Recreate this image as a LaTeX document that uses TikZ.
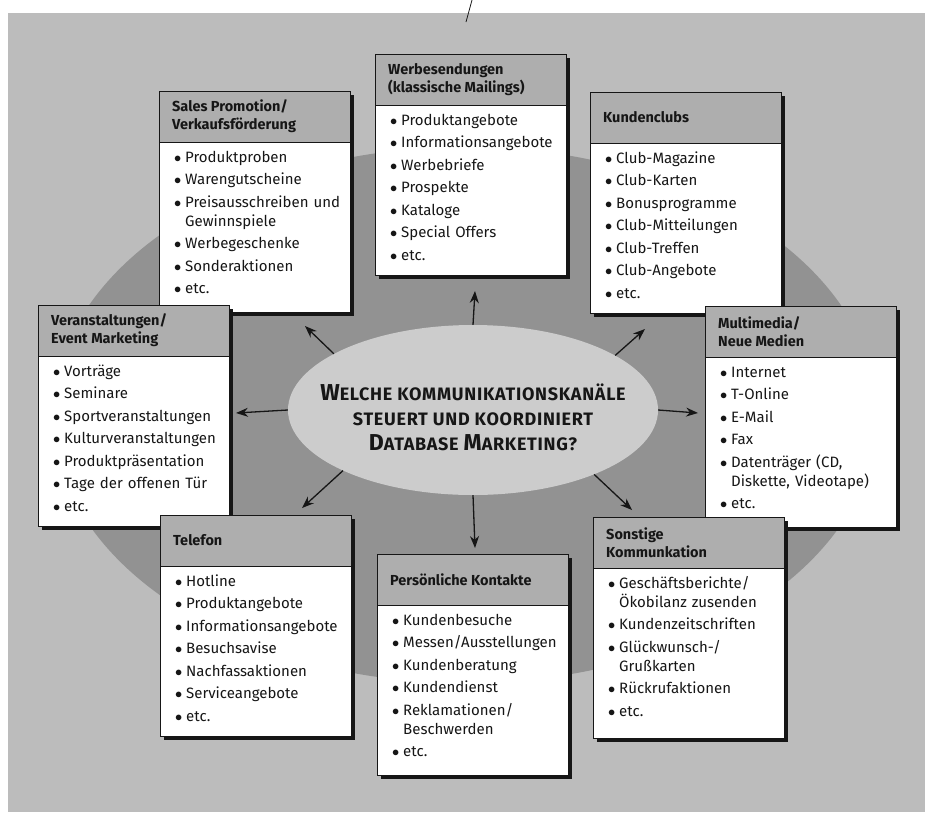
\documentclass[tikz,border=0pt]{standalone}
\usepackage{fontspec}
\setmainfont{Fira Sans}
\newfontfamily\titlefont{Fira Sans}[LetterSpace=4]
\usetikzlibrary{shapes.geometric,arrows.meta}
\definecolor{pagebg}{RGB}{188,188,188}
\definecolor{darkell}{RGB}{146,146,146}
\definecolor{lightell}{RGB}{204,204,204}
\definecolor{headfill}{RGB}{174,174,174}
\definecolor{inkc}{RGB}{22,22,22}
\newcommand{\itm}[1]{\noindent\hangindent=11pt\hangafter=1\makebox[11pt][l]{$\bullet$}#1\par}
\newcommand{\bigc}[1]{{\fontsize{23}{25}\selectfont #1}}
\tikzset{
  boxframe/.style={draw=inkc, line width=0.9pt, fill=white, minimum width=191pt, minimum height=221pt, inner sep=0pt},
  headbar/.style={draw=inkc, line width=0.9pt, fill=headfill, minimum width=191pt, minimum height=51pt, inner sep=0pt},
  headtext/.style={font=\fontsize{14.5}{18}\selectfont\bfseries, align=left, inner sep=0pt, text=inkc},
  bodytext/.style={font=\fontsize{15}{19}\selectfont, text width=178pt, inner sep=0pt, text=inkc, execute at begin node={\setlength{\parskip}{3.5pt}\raggedright}},
  arr/.style={draw=inkc, line width=1.3pt, -{Stealth[length=12pt,width=9pt]}}
}
\newcommand{\chanbox}[5]{%
  \fill[inkc] (#2+4,#3+4) rectangle (#2+195,#3+225);
  \node[boxframe, anchor=north west] (#1) at (#2,#3) {};
  \node[headbar, anchor=north west] (#1h) at (#2,#3) {};
  \node[headtext, anchor=west] (#1t) at (#2+13,#3+25.5) {#4};
  \node[bodytext, anchor=base west] (#1b) at (#2+15,#3+71) {#5};
}
\begin{document}
\begin{tikzpicture}[x=1pt,y=-1pt]
\useasboundingbox (0,0) rectangle (925,825);
\fill[pagebg] (8,13) rectangle (925,812);
\draw[inkc, line width=0.8pt] (472,0) -- (466,22);
\fill[darkell] (465,415) ellipse [x radius=412pt, y radius=268pt];
\node[ellipse, fill=lightell, minimum width=370pt, minimum height=170pt, inner sep=0pt] (ce) at (473,410) {};
\node[font=\fontsize{18}{25}\titlefont\bfseries, align=center, text=inkc] (q) at (473,417)
  {\bigc{W}ELCHE KOMMUNIKATIONSKANÄLE\\STEUERT UND KOORDINIERT\\\bigc{D}ATABASE \bigc{M}ARKETING?};
\coordinate (tUL) at (305,326);
\coordinate (tU) at (475,291);
\coordinate (tUR) at (645,329);
\coordinate (tR) at (698,413);
\coordinate (tL) at (236,413);
\coordinate (tLL) at (302,508);
\coordinate (tD) at (475,548);
\coordinate (tLR) at (632,510);
\draw[arr] (ce.158) -- (tUL);
\draw[arr] (ce.90) -- (tU);
\draw[arr] (ce.21) -- (tUR);
\draw[arr] (ce.0) -- (tR);
\draw[arr] (ce.180) -- (tL);
\draw[arr] (ce.205) -- (tLL);
\draw[arr] (ce.270) -- (tD);
\draw[arr] (ce.332) -- (tLR);
\chanbox{sp}{159}{91}{Sales Promotion/\\Verkaufsförderung}{\itm{Produktproben}\itm{Warengutscheine}\itm{Preisausschreiben und\newline Gewinnspiele}\itm{Werbegeschenke}\itm{Sonderaktionen}\itm{etc.}}
\chanbox{wb}{375}{54}{Werbesendungen\\(klassische Mailings)}{\itm{Produktangebote}\itm{Informationsangebote}\itm{Werbebriefe}\itm{Prospekte}\itm{Kataloge}\itm{Special Offers}\itm{etc.}}
\chanbox{kc}{590}{92}{Kundenclubs}{\itm{Club-Magazine}\itm{Club-Karten}\itm{Bonusprogramme}\itm{Club-Mitteilungen}\itm{Club-Treffen}\itm{Club-Angebote}\itm{etc.}}
\chanbox{ve}{38}{305}{Veranstaltungen/\\Event Marketing}{\itm{Vorträge}\itm{Seminare}\itm{Sportveranstaltungen}\itm{Kulturveranstaltungen}\itm{Produktpräsentation}\itm{Tage der offenen Tür}\itm{etc.}}
\chanbox{mm}{705}{306}{Multimedia/\\Neue Medien}{\itm{Internet}\itm{T-Online}\itm{E-Mail}\itm{Fax}\itm{Datenträger (CD,\newline Diskette, Videotape)}\itm{etc.}}
\chanbox{te}{160}{515}{Telefon}{\itm{Hotline}\itm{Produktangebote}\itm{Informationsangebote}\itm{Besuchsavise}\itm{Nachfassaktionen}\itm{Serviceangebote}\itm{etc.}}
\chanbox{so}{593}{517}{Sonstige\\Kommunkation}{\itm{Geschäftsberichte/\newline Ökobilanz zusenden}\itm{Kundenzeitschriften}\itm{Glückwunsch-/\newline Grußkarten}\itm{Rückrufaktionen}\itm{etc.}}
\chanbox{pk}{377}{554}{Persönliche Kontakte}{\itm{Kundenbesuche}\itm{Messen/Ausstellungen}\itm{Kundenberatung}\itm{Kundendienst}\itm{Reklamationen/\newline Beschwerden}\itm{etc.}}
\end{tikzpicture}
\end{document}
